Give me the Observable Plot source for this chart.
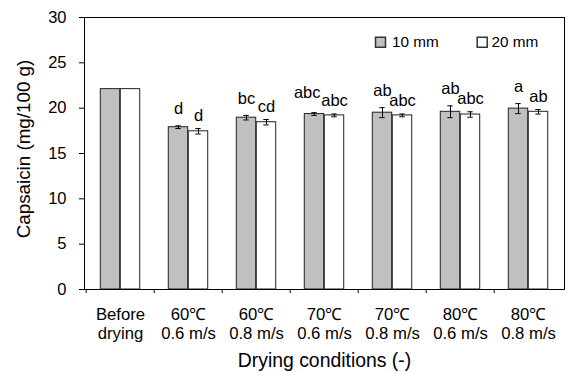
<!DOCTYPE html>
<html>
<head>
<meta charset="utf-8">
<script src="https://cdn.jsdelivr.net/npm/d3@7"></script>
<script src="https://cdn.jsdelivr.net/npm/@observablehq/plot@0.6"></script>
<style>
  html, body { margin: 0; padding: 0; background: #fff; }
  #chart { width: 568px; height: 372px; }
</style>
</head>
<body>
<div id="chart"></div>
<script>
// ---- data ----
const categories = ["Before\ndrying", "60℃\n0.6 m/s", "60℃\n0.8 m/s", "70℃\n0.6 m/s", "70℃\n0.8 m/s", "80℃\n0.6 m/s", "80℃\n0.8 m/s"];
const series = ["10 mm", "20 mm"];
const mm10 = [22.1, 17.9, 18.95, 19.35, 19.5, 19.6, 19.95];
const mm20 = [22.1, 17.45, 18.45, 19.2, 19.2, 19.3, 19.6];
const err10 = [0, 0.15, 0.25, 0.15, 0.55, 0.65, 0.55];
const err20 = [0, 0.3, 0.3, 0.15, 0.15, 0.3, 0.25];
const labels10 = ["", "d", "bc", "abc", "ab", "ab", "a"];
const labels20 = ["", "d", "cd", "abc", "abc", "abc", "ab"];
const yTicks = [0, 5, 10, 15, 20, 25, 30];
const yLabel = "Capsaicin (mg/100 g)";
const xLabel = "Drying conditions (-)";

// ---- layout / style ----
const W = 568, H = 372, mL = 84, mR = 4, mT = 17, mB = 83;
const bw = (W - mL - mR) / categories.length;
const barW = 20;
const fills = {"10 mm": "#c0c0c0", "20 mm": "#ffffff"};
const off = {"10 mm": -barW / 2, "20 mm": barW / 2};
const labDy = {"10 mm": -17, "20 mm": -13};
const font = "'Liberation Sans', Arial, Helvetica, sans-serif";

const rows = categories.flatMap((c, i) => [
  {cat: c, s: "10 mm", v: mm10[i], e: err10[i], lab: labels10[i], other: labels20[i]},
  {cat: c, s: "20 mm", v: mm20[i], e: err20[i], lab: labels20[i], other: labels10[i]}
]);
// a left-bar label that would collide with a long right-bar label is right-aligned next to it
const crowded = r => r.s === "10 mm" && r.lab.length >= 3 && r.other.length >= 3;

const marks = [];
series.forEach((s, k) => {
  const d = rows.filter(r => r.s === s);
  const de = d.filter(r => r.e > 0);
  marks.push(
    Plot.barY(d, {
      x: "cat", y: "v", fill: fills[s], stroke: "#222", strokeWidth: 1,
      insetLeft: k === 0 ? bw / 2 - barW : bw / 2,
      insetRight: k === 0 ? bw / 2 : bw / 2 - barW
    }),
    Plot.ruleX(de, {x: "cat", y1: r => r.v - r.e, y2: r => r.v + r.e, dx: off[s], stroke: "#000"}),
    Plot.tickY(de, {x: "cat", y: r => r.v + r.e, dx: off[s], insetLeft: bw / 2 - 3, insetRight: bw / 2 - 3, stroke: "#000"}),
    Plot.tickY(de, {x: "cat", y: r => r.v - r.e, dx: off[s], insetLeft: bw / 2 - 3, insetRight: bw / 2 - 3, stroke: "#000"}),
    Plot.text(d.filter(r => !crowded(r)), {x: "cat", y: r => r.v + r.e, text: "lab", dx: off[s], dy: labDy[s], lineAnchor: "middle", fontSize: 16.5, fill: "#000"}),
    Plot.text(d.filter(crowded), {x: "cat", y: r => r.v + r.e, text: "lab", dx: -4, dy: labDy[s] - 3, textAnchor: "end", lineAnchor: "middle", fontSize: 16.5, fill: "#000"})
  );
  // legend entry
  marks.push(
    Plot.dot([s], {frameAnchor: "top-left", dx: 296 + k * 101.7, dy: 24.7, symbol: "square", r: 5.64, fill: fills[s], stroke: "#333"}),
    Plot.text([s], {frameAnchor: "top-left", dx: 307.5 + k * 99.5, dy: 24.7, text: d => d, textAnchor: "start", lineAnchor: "middle", fontSize: 15.3, fill: "#000"})
  );
});

marks.push(
  Plot.axisY({ticks: yTicks, tickSize: 5, tickPadding: 13, fontSize: 16.5, label: null, stroke: "#000"}),
  Plot.axisX({ticks: categories, tickSize: 4, tickFormat: () => "", dx: -bw / 2, label: null}),
  Plot.text(categories, {x: d => d, frameAnchor: "bottom", dy: 17, lineAnchor: "top", lineHeight: 1.14, fontSize: 16.7, fill: "#000"}),
  Plot.text([yLabel], {frameAnchor: "left", rotate: -90, textAnchor: "middle", lineAnchor: "middle", dx: -61, dy: -4.5, fontSize: 18.8, fill: "#000"}),
  Plot.text([xLabel], {frameAnchor: "bottom", dy: 71, textAnchor: "middle", lineAnchor: "middle", fontSize: 19.4, fill: "#000"}),
  Plot.frame({stroke: "#000"})
);

const chart = Plot.plot({
  width: W, height: H,
  marginLeft: mL, marginRight: mR, marginTop: mT, marginBottom: mB,
  x: {type: "band", domain: categories, padding: 0},
  y: {domain: [0, 30]},
  style: {fontFamily: font, fontSize: "16px", color: "#000", background: "#fff"},
  marks
});
document.getElementById("chart").appendChild(chart);
</script>
</body>
</html>
